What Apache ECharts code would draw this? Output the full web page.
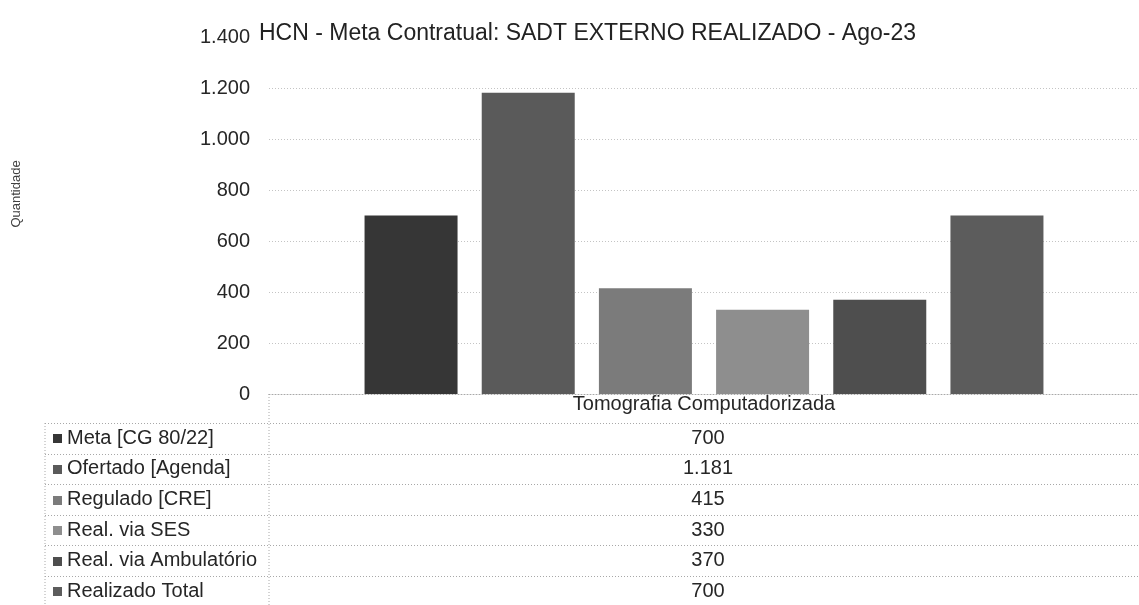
<!DOCTYPE html>
<html>
<head>
<meta charset="utf-8">
<title>HCN - Meta Contratual: SADT EXTERNO REALIZADO - Ago-23</title>
<script src="https://cdn.jsdelivr.net/npm/echarts@6/dist/echarts.min.js"></script>
<style>
    html, body { margin: 0; padding: 0; background: #fff; }
    #chart { width: 1139px; height: 605px; }
</style>
</head>
<body>
<div id="chart"></div>
<script>
// dados
var chartTitle = 'HCN - Meta Contratual: SADT EXTERNO REALIZADO - Ago-23';
var yAxisTitle = 'Quantidade';
var categories = ['Tomografia Computadorizada'];
var seriesNames = ['Meta [CG 80/22]', 'Ofertado [Agenda]', 'Regulado [CRE]', 'Real. via SES', 'Real. via Ambulatório', 'Realizado Total'];
var metaValues = [700];
var ofertadoValues = [1181];
var reguladoValues = [415];
var sesValues = [330];
var ambulatorioValues = [370];
var totalValues = [700];
var yMin = 0;
var yMax = 1400;
var yStep = 200;

(function () {
    'use strict';

    var FONT = "'Liberation Sans', Arial, sans-serif";
    var colors = ['#363636', '#5a5a5a', '#7b7b7b', '#8e8e8e', '#4e4e4e', '#5c5c5c'];
    var allValues = [metaValues, ofertadoValues, reguladoValues, sesValues, ambulatorioValues, totalValues];

    // layout da tabela de dados (estilo Excel)
    var gridLeft = 269, gridTop = 37, axisY = 394;
    var tableLeft = 45, headerBottom = 423, rowH = 30.6, rightEdge = 1139;
    var valueX = 708;

    // 1181 -> 1.181
    function fmt(v) {
        return String(v).replace(/\B(?=(\d{3})+(?!\d))/g, '.');
    }

    function dotted(x1, y1, x2, y2) {
        return {
            type: 'line', silent: true,
            shape: {x1: x1, y1: y1, x2: x2, y2: y2},
            style: {stroke: '#a8a8a8', lineWidth: 1, lineDash: [1, 2]}
        };
    }

    var series = [];
    for (var i = 0; i < seriesNames.length; i++) {
        series.push({
            name: seriesNames[i],
            type: 'bar',
            data: allValues[i],
            barWidth: 93,
            barGap: '26%',
            itemStyle: {color: colors[i]}
        });
    }

    var graphic = [];
    graphic.push(dotted(gridLeft, axisY, gridLeft, 605));
    graphic.push(dotted(tableLeft, headerBottom, tableLeft, 605));
    for (var r = 0; r <= seriesNames.length; r++) {
        var ly = Math.round(headerBottom + rowH * r) + 0.5;
        graphic.push(dotted(tableLeft, ly, rightEdge, ly));
    }
    for (var k = 0; k < seriesNames.length; k++) {
        var cy = headerBottom + rowH * k + rowH / 2;
        graphic.push({
            type: 'rect', silent: true,
            shape: {x: 53, y: Math.round(cy - 4), width: 9, height: 9},
            style: {fill: colors[k]}
        });
        graphic.push({
            type: 'text', silent: true, x: 67, y: cy,
            style: {text: seriesNames[k], font: '20px ' + FONT, fill: '#262626', verticalAlign: 'middle'}
        });
        graphic.push({
            type: 'text', silent: true, x: valueX, y: cy,
            style: {text: fmt(allValues[k][0]), font: '20px ' + FONT, fill: '#262626', align: 'center', verticalAlign: 'middle'}
        });
    }
    // titulo do eixo Y (rotacionado)
    graphic.push({
        type: 'text', silent: true, x: 16, y: 194, rotation: Math.PI / 2,
        style: {text: yAxisTitle, font: '13px ' + FONT, fill: '#404040', align: 'center', verticalAlign: 'middle'}
    });

    var chart = echarts.init(document.getElementById('chart'));
    chart.setOption({
        animation: false,
        backgroundColor: '#ffffff',
        title: {
            text: chartTitle,
            left: 254, top: 17,
            textStyle: {fontFamily: FONT, fontSize: 23, fontWeight: 'normal', color: '#222'}
        },
        grid: {left: gridLeft, right: -8, top: gridTop, bottom: 605 - axisY, containLabel: false},
        xAxis: {
            type: 'category',
            data: categories,
            axisTick: {show: false},
            axisLine: {lineStyle: {color: '#a8a8a8', type: [1, 2]}},
            axisLabel: {margin: 0, fontFamily: FONT, fontSize: 20, lineHeight: 20, color: '#262626'}
        },
        yAxis: {
            type: 'value',
            min: yMin, max: yMax, interval: yStep,
            axisLine: {show: false},
            axisTick: {show: false},
            axisLabel: {margin: 19, fontFamily: FONT, fontSize: 20, color: '#262626', formatter: fmt},
            splitLine: {showMinLine: false, showMaxLine: false, lineStyle: {color: '#c4c4c4', type: [1, 2]}}
        },
        series: series,
        graphic: graphic
    });
})();
</script>
</body>
</html>
